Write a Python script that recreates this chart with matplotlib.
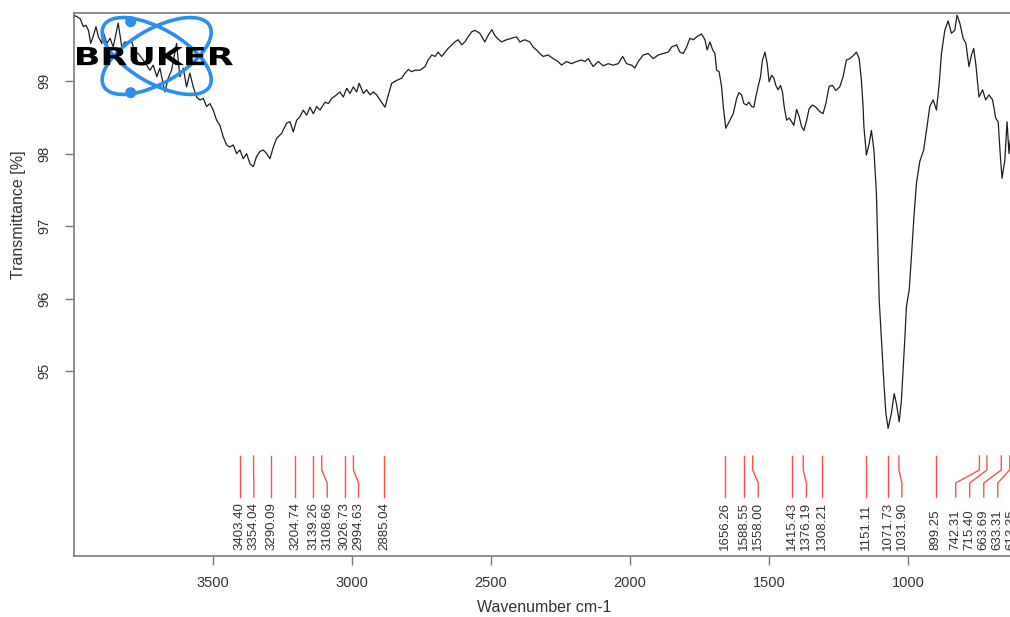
import numpy as np
import matplotlib
matplotlib.use("Agg")
import matplotlib.pyplot as plt
from matplotlib.patches import Ellipse, Circle, PathPatch
from matplotlib.textpath import TextPath
from matplotlib.path import Path
from matplotlib.font_manager import FontProperties
import matplotlib.transforms as mtransforms

plt.rcParams['font.family'] = ['Liberation Sans', 'DejaVu Sans']

# spectrum (wavenumber cm-1, transmittance %)
wavenumber = [3997, 3990, 3978, 3966, 3957, 3948, 3940, 3930, 3921, 3912, 3900, 3895, 3882,
              3870, 3859, 3841, 3828, 3817, 3805, 3792, 3781, 3769, 3751, 3727, 3715, 3702,
              3691, 3673, 3661, 3649, 3631, 3619, 3607, 3595, 3583, 3571, 3559, 3547, 3535,
              3523, 3511, 3499, 3487, 3475, 3463, 3451, 3439, 3427, 3415, 3403, 3391, 3379,
              3367, 3355, 3343, 3331, 3319, 3307, 3295, 3283, 3271, 3253, 3235, 3223, 3211,
              3199, 3187, 3175, 3163, 3151, 3139, 3127, 3115, 3097, 3085, 3073, 3055, 3043,
              3031, 3019, 3007, 2995, 2983, 2974, 2959, 2947, 2935, 2923, 2911, 2899, 2881,
              2869, 2857, 2839, 2821, 2809, 2797, 2785, 2773, 2755, 2737, 2726, 2713, 2701,
              2690, 2677, 2665, 2654, 2641, 2630, 2618, 2605, 2594, 2582, 2569, 2558, 2540,
              2522, 2510, 2497, 2486, 2474, 2462, 2444, 2426, 2408, 2396, 2378, 2360, 2348,
              2336, 2324, 2312, 2294, 2276, 2258, 2246, 2228, 2210, 2192, 2174, 2162, 2150,
              2132, 2114, 2096, 2078, 2060, 2042, 2026, 2012, 1994, 1982, 1970, 1952, 1934,
              1916, 1898, 1880, 1862, 1850, 1832, 1820, 1808, 1796, 1784, 1772, 1760, 1742,
              1730, 1722, 1712, 1702, 1694, 1688, 1679, 1670, 1664, 1655, 1640, 1628, 1616,
              1608, 1598, 1590, 1580, 1572, 1562, 1554, 1547, 1539, 1530, 1523, 1514, 1506,
              1499, 1490, 1482, 1475, 1467, 1458, 1451, 1445, 1436, 1427, 1418, 1410, 1400,
              1391, 1382, 1374, 1364, 1355, 1343, 1331, 1317, 1305, 1295, 1283, 1271, 1259,
              1245, 1233, 1221, 1209, 1194, 1185, 1175, 1167, 1161, 1158, 1149, 1139, 1131,
              1122, 1113, 1103, 1095, 1086, 1079, 1071, 1059, 1049, 1041, 1031, 1023, 1011,
              1005, 995, 987, 978, 969, 957, 943, 931, 921, 909, 897, 887, 879, 867, 855,
              843, 831, 823, 813, 801, 791, 780, 771, 763, 755, 744, 731, 720, 708, 695, 684,
              675, 667, 661, 651, 643, 636, 633, 625, 612, 600]
transmittance = [99.90, 99.89, 99.86, 99.75, 99.77, 99.70, 99.52, 99.63, 99.75, 99.61, 99.52,
                 99.68, 99.52, 99.59, 99.47, 99.80, 99.47, 99.54, 99.52, 99.54, 99.40, 99.38,
                 99.29, 99.15, 99.22, 99.06, 99.18, 98.85, 99.04, 99.15, 99.52, 99.06, 99.18,
                 98.92, 99.11, 98.92, 98.78, 98.74, 98.76, 98.65, 98.69, 98.60, 98.46, 98.39,
                 98.23, 98.12, 98.09, 98.12, 98.00, 98.05, 97.93, 98.00, 97.86, 97.82, 97.96,
                 98.03, 98.05, 98.00, 97.93, 98.09, 98.21, 98.28, 98.42, 98.44, 98.30, 98.46,
                 98.51, 98.60, 98.53, 98.64, 98.55, 98.65, 98.60, 98.71, 98.69, 98.76, 98.81,
                 98.85, 98.78, 98.90, 98.83, 98.92, 98.85, 98.97, 98.83, 98.88, 98.81, 98.85,
                 98.81, 98.74, 98.64, 98.81, 98.97, 99.01, 99.04, 99.11, 99.16, 99.13, 99.15,
                 99.15, 99.20, 99.29, 99.36, 99.34, 99.40, 99.34, 99.40, 99.45, 99.50, 99.54,
                 99.57, 99.50, 99.54, 99.61, 99.68, 99.70, 99.66, 99.54, 99.63, 99.71, 99.63,
                 99.58, 99.54, 99.57, 99.59, 99.61, 99.54, 99.57, 99.54, 99.47, 99.43, 99.38,
                 99.34, 99.36, 99.31, 99.27, 99.22, 99.27, 99.24, 99.27, 99.29, 99.27, 99.31,
                 99.20, 99.27, 99.21, 99.24, 99.22, 99.24, 99.34, 99.24, 99.22, 99.18, 99.27,
                 99.36, 99.38, 99.31, 99.36, 99.38, 99.40, 99.47, 99.50, 99.40, 99.38, 99.47,
                 99.59, 99.57, 99.61, 99.65, 99.57, 99.43, 99.54, 99.43, 99.38, 99.15, 99.13,
                 98.92, 98.65, 98.35, 98.46, 98.55, 98.76, 98.84, 98.81, 98.69, 98.67, 98.71,
                 98.65, 98.64, 98.78, 98.92, 99.06, 99.29, 99.40, 99.24, 98.99, 99.08, 99.04,
                 98.94, 98.88, 98.94, 98.85, 98.65, 98.46, 98.49, 98.44, 98.39, 98.61, 98.51,
                 98.37, 98.32, 98.46, 98.62, 98.67, 98.64, 98.58, 98.55, 98.69, 98.93, 98.94,
                 98.87, 98.92, 99.06, 99.29, 99.31, 99.36, 99.40, 99.31, 99.01, 98.65, 98.37,
                 97.98, 98.14, 98.32, 98.05, 97.45, 95.98, 95.43, 94.83, 94.42, 94.21, 94.42,
                 94.69, 94.55, 94.30, 94.60, 95.43, 95.89, 96.12, 96.58, 97.13, 97.59, 97.89,
                 98.05, 98.37, 98.65, 98.74, 98.60, 98.97, 99.38, 99.70, 99.83, 99.66, 99.70,
                 99.91, 99.80, 99.59, 99.52, 99.20, 99.36, 99.45, 99.22, 98.78, 98.88, 98.74,
                 98.81, 98.74, 98.49, 98.44, 97.96, 97.66, 97.91, 98.44, 98.00, 98.14, 98.30,
                 98.55, 98.45]

peaks = [3403.40, 3354.04, 3290.09, 3204.74, 3139.26, 3108.66, 3026.73, 2994.63, 2885.04,
         1656.26, 1588.55, 1558.00, 1415.43, 1376.19, 1308.21, 1151.11, 1071.73, 1031.90,
         899.25, 742.31, 715.40, 663.69, 633.31, 613.35]

x_ticks = [3500, 3000, 2500, 2000, 1500, 1000]
y_ticks = [95, 96, 97, 98, 99]

W, H = 1010, 617
fig = plt.figure(figsize=(W / 100, H / 100), dpi=100)
ax = fig.add_axes([74 / W, (H - 556) / H, (1019 - 74) / W, (556 - 13.3) / H])

grey = '#7a7a7a'
txt = '#333333'

ax.plot(wavenumber, transmittance, color='#1e1e1e', lw=0.9, zorder=3)
ax.set_xlim(4000, 600)
ax.set_ylim(92.45, 99.935)

for s in ax.spines.values():
    s.set_color(grey)
    s.set_linewidth(1.2)

ax.set_xticks(x_ticks)
ax.set_yticks(y_ticks)
ax.set_xticklabels([str(t) for t in x_ticks])
ax.set_yticklabels([str(t) for t in y_ticks], rotation=90, va='center')
ax.tick_params(axis='both', direction='out', length=6.5, width=1, color=grey,
               labelcolor=txt, labelsize=10.5)
ax.tick_params(axis='y', pad=10)
ax.tick_params(axis='x', pad=8)

fig.text(19 / W, 1 - 215 / H, 'Transmittance [%]', rotation=90, ha='center', va='center',
         fontsize=11.5, color=txt)
fig.text(544 / W, 1 - 607 / H, 'Wavenumber cm-1', ha='center', va='center',
         fontsize=11.5, color=txt)

# peak labels, spread apart so they do not overlap
gap = 50.4
label_min = 626
pos = list(peaks)
for i in range(1, len(pos)):
    pos[i] = min(pos[i], pos[i - 1] - gap)
pos[-1] = max(pos[-1], label_min)
for i in range(len(pos) - 2, -1, -1):
    pos[i] = max(pos[i], pos[i + 1] + gap)

trans = mtransforms.blended_transform_factory(ax.transData, ax.transAxes)
for p, lp in zip(peaks, pos):
    ax.plot([p, p, lp, lp], [0.1843, 0.1585, 0.1345, 0.1087], transform=trans,
            color='#ff4f4f', lw=1, clip_on=False, zorder=2)
    ax.text(lp, 0.011, '%.2f' % p, transform=trans, rotation=90, ha='center',
            va='bottom', fontsize=9.5, color=txt, clip_on=False)

# Bruker logo, drawn in figure pixels
lax = fig.add_axes([0, 0, 1, 1], zorder=5)
lax.set_xlim(0, W)
lax.set_ylim(H, 0)
lax.axis('off')
blue = '#2b8ef0'
for ang in (30, -30):
    lax.add_patch(Ellipse((156.7, 56), 122, 54, angle=ang, fill=False, ec=blue, lw=2.6))
lax.add_patch(Circle((130.7, 21.7), 4.8, color=blue))
lax.add_patch(Circle((130.7, 92.7), 4.8, color=blue))

tp = TextPath((0, 0), 'BRUKER', size=100, prop=FontProperties(family='DejaVu Sans', weight='bold'))
ext = tp.get_extents()
v = tp.vertices.copy()
v[:, 0] = 77 + (v[:, 0] - ext.x0) / ext.width * 156
v[:, 1] = 65.5 - (v[:, 1] - ext.y0) / ext.height * 18.5
lax.add_patch(PathPatch(Path(v, tp.codes), fc='black', ec='none'))

fig.savefig('out.png', dpi=100)
